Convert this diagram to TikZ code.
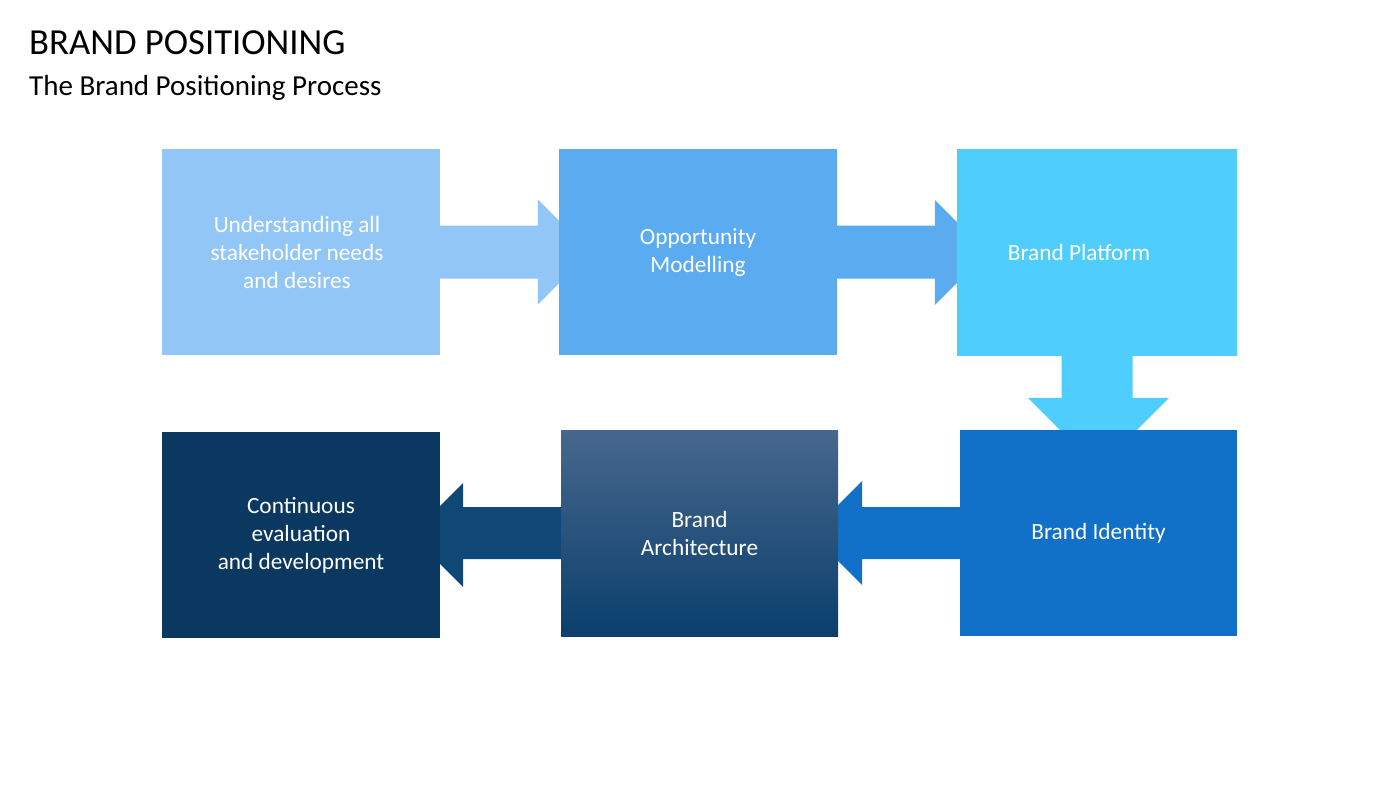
\documentclass[tikz,border=0pt]{standalone}
\usepackage{fontspec}
\setmainfont{Carlito}
\usetikzlibrary{calc}
\definecolor{cA}{HTML}{92C6F6}
\definecolor{cB}{HTML}{5BABF1}
\definecolor{cC}{HTML}{4FCEFD}
\definecolor{cD}{HTML}{1170C8}
\definecolor{cEtop}{HTML}{47678D}
\definecolor{cEmidd}{HTML}{134A7A}
\definecolor{cEbot}{HTML}{0A3F6C}
\definecolor{cEmid}{HTML}{0F4777}
\definecolor{cF}{HTML}{0B3861}
\tikzset{
  stage/.style={draw=none, minimum width=278pt, minimum height=206pt, inner sep=0pt,
    text=white, align=center, font=\fontsize{23.3}{28}\selectfont},
  label/.style={text=white, align=center, inner sep=0pt, font=\fontsize{23.3}{28}\selectfont},
  titletext/.style={anchor=base west, inner sep=0pt, font=\fontsize{36.7}{40}\selectfont},
  subtitletext/.style={anchor=base west, inner sep=0pt, font=\fontsize{29}{32}\selectfont},
}
\begin{document}
\begin{tikzpicture}[x=1pt,y=-1pt]
\useasboundingbox[fill=white] (0,0) rectangle (1400,788);
\node[titletext] (title) at (29,54) {BRAND POSITIONING};
\node[subtitletext] (subtitle) at (29,95) {The Brand Positioning Process};
% boxes (positions)
\path (301,252) coordinate (p1) (698,252) coordinate (p2) (1097,252.5) coordinate (p3)
      (1098.5,533) coordinate (p4) (699.5,533) coordinate (p5) (301,535) coordinate (p6);
\node[stage, minimum width=278pt] (b1) at (p1) {};
\node[stage] (b2) at (p2) {};
\node[stage, minimum width=280pt, minimum height=207pt] (b3) at (p3) {};
\node[stage, minimum width=277pt] (b4) at (p4) {};
\node[stage, minimum width=277pt] (b5) at (p5) {};
\node[stage] (b6) at (p6) {};
% block arrows (behind boxes)
\fill[cA] ($(b1.east)+(-2,-26.5)$) -| ($(b2.west)+(-21,-52.5)$) -- ($(b2.west)+(31.5,0)$)
   -- ($(b2.west)+(-21,52.5)$) |- ($(b1.east)+(-2,26.5)$) -- cycle;
\fill[cB] ($(b2.east)+(-2,-26.5)$) -| ($(b3.west)+(-22,-52.5)$) -- ($(b3.west)+(30.5,0)$)
   -- ($(b3.west)+(-22,52.5)$) |- ($(b2.east)+(-2,26.5)$) -- cycle;
\fill[cC] ($(b3.south)+(-35.5,-2)$) |- ($(b4.north)+(-70.5,-32)$) -- ($(b4.north)+(0,38.5)$)
   -- ($(b4.north)+(70.5,-32)$) -| ($(b3.south)+(35.5,-2)$) -- cycle;
\fill[cD] ($(b4.west)+(2,-26)$) -| ($(b5.east)+(24,-52)$) -- ($(b5.east)+(-28,0)$)
   -- ($(b5.east)+(24,52)$) |- ($(b4.west)+(2,26)$) -- cycle;
\fill[cEmid] ($(b5.west)+(2,-26)$) -| ($(b6.east)+(23,-52)$) -- ($(b6.east)+(-29,0)$)
   -- ($(b6.east)+(23,52)$) |- ($(b5.west)+(2,26)$) -- cycle;
% filled boxes with text
\node[stage, fill=cA] at (b1) {};
\node[label] (t1) at ([xshift=-4pt]b1.center) {Understanding all\\stakeholder needs\\and desires};
\node[stage, fill=cB] at (b2) {Opportunity\\Modelling};
\node[stage, fill=cC, minimum width=280pt, minimum height=207pt] at (b3) {};
\node[label] (t3) at ([xshift=-18pt]b3.center) {Brand Platform};
\node[stage, fill=cD, minimum width=277pt] at (b4) {Brand Identity};
\node[stage, top color=cEtop, middle color=cEmidd, bottom color=cEbot, minimum width=277pt] at (b5) {Brand\\Architecture};
\node[stage, fill=cF] at (b6) {Continuous\\evaluation\\and development};
\end{tikzpicture}
\end{document}
